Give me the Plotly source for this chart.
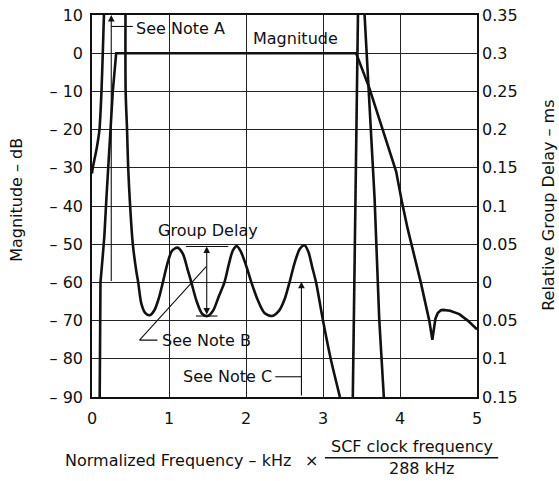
import plotly.graph_objects as go

# axis ticks
FREQ_TICKS = [0, 1, 2, 3, 4, 5]
MAG_TICKS = [10, 0, -10, -20, -30, -40, -50, -60, -70, -80, -90]
MAG_TICK_TEXT = ["10", "0", "– 10", "– 20", "– 30", "– 40", "– 50", "– 60", "– 70", "– 80", "– 90"]
DELAY_TICK_TEXT = ["0.35", "0.3", "0.25", "0.2", "0.15", "0.1", "0.05", "0", "0.05", "0.1", "0.15"]

# magnitude response (dB)
mag_freq = [0.10, 0.11, 0.14, 0.16, 0.19, 0.227, 0.27, 0.314, 3.43, 3.60, 3.84, 3.95,
            4.02, 4.10, 4.27, 4.38, 4.42, 4.435, 4.46, 4.49, 4.53, 4.56, 4.65, 4.77, 4.88, 5.0]
mag_db = [-90, -60, -53, -48, -37, -23, -10, 0, 0, -9, -24.4, -31,
          -38.4, -46, -60, -70, -75, -72.5, -69.5, -68, -67.3, -67.2, -67.4, -68.3, -70, -72.3]

# group delay, plotted on the dB grid (segments that leave the chart)
gd_low_freq = [0.0, 0.01, 0.03, 0.06, 0.097, 0.123, 0.14, 0.155]
gd_low_db = [-31.5, -30, -28, -25, -20, -10, 0, 10]

gd_band_freq = [0.435, 0.437, 0.455, 0.47, 0.495, 0.53, 0.575, 0.60, 0.64, 0.69, 0.75, 0.81, 0.87,
                0.92, 0.98, 1.04, 1.11, 1.18, 1.24, 1.29, 1.36, 1.43, 1.50, 1.57, 1.65, 1.72,
                1.78, 1.83, 1.88, 1.93, 2.0, 2.07, 2.15, 2.24, 2.34, 2.43, 2.50, 2.565, 2.63,
                2.70, 2.76, 2.81, 2.86, 2.91, 3.0, 3.1, 3.22]
gd_band_db = [10, -10, -20, -30, -40, -50, -57, -60, -65.5, -68, -68.6, -67.3, -64,
              -60, -55, -51.7, -50.9, -52.5, -56.5, -60, -65, -68.2, -68.8, -67.5, -63.5, -60,
              -55, -51.6, -50.5, -51.8, -55.5, -60, -64.5, -68, -68.8, -67.4, -64.5, -60, -55,
              -51.2, -50.3, -52, -56, -60, -70, -80, -90]

gd_rise_freq = [3.387, 3.42, 3.43, 3.454]
gd_rise_db = [-90, -38.4, -24, 10]

gd_fall_freq = [3.54, 3.63, 3.67, 3.73, 3.79]
gd_fall_db = [10, -24, -38, -69.5, -90]

# note markers (frequency, dB)
NOTE_A = dict(x=0.25, y_tip=10, y_tail=-60, leader=[0.25, 0.53], leader_db=7.0, text_x=0.55, text_db=6.5)
NOTE_B = dict(x=1.49, y_top=-50.6, y_bot=-68.8, top_tick=[1.22, 1.77], bot_tick=[1.35, 1.63],
              leader_x=[0.85, 0.617, 1.483], leader_db=[-75.1, -75.1, -55.9], text_x=0.88, text_db=-75.1)
NOTE_C = dict(x=2.72, y_tip=-59.8, y_tail=-90, leader=[2.38, 2.72], leader_db=-84.7, text_x=1.757, text_db=-84.7)

FONT = "DejaVu Sans, Liberation Sans, Arial"
INK = "#111111"
FS = 16

fig = go.Figure()

curve = dict(color=INK, width=2.6)
fig.add_trace(go.Scatter(x=mag_freq, y=mag_db, mode="lines", line=curve))
fig.add_trace(go.Scatter(x=gd_low_freq, y=gd_low_db, mode="lines", line=dict(curve, shape="spline", smoothing=0.6)))
fig.add_trace(go.Scatter(x=gd_band_freq, y=gd_band_db, mode="lines", line=dict(curve, shape="spline", smoothing=0.8)))
fig.add_trace(go.Scatter(x=gd_rise_freq, y=gd_rise_db, mode="lines", line=curve))
fig.add_trace(go.Scatter(x=gd_fall_freq, y=gd_fall_db, mode="lines", line=curve))
# empty trace so the right-hand delay axis is drawn
fig.add_trace(go.Scatter(x=[None], y=[None], yaxis="y2", mode="lines"))

thin = dict(color=INK, width=1.1)


def note_text(x, y, text, anchor="center"):
    fig.add_annotation(x=x, y=y, text=text, showarrow=False, xanchor=anchor, yanchor="middle",
                       font=dict(size=FS))


def paper_text(x, y, text, anchor="center", angle=0):
    fig.add_annotation(x=x, y=y, xref="paper", yref="paper", text=text, showarrow=False,
                       xanchor=anchor, yanchor="middle", textangle=angle, font=dict(size=FS))


# Note A: arrow to the top and leader
fig.add_annotation(x=NOTE_A["x"], y=NOTE_A["y_tip"], ax=NOTE_A["x"], ay=NOTE_A["y_tail"],
                   xref="x", yref="y", axref="x", ayref="y", text="", showarrow=True,
                   arrowhead=2, arrowsize=1.2, arrowwidth=1.1, arrowcolor=INK)
fig.add_trace(go.Scatter(x=NOTE_A["leader"], y=[NOTE_A["leader_db"]] * 2, mode="lines", line=thin))
note_text(NOTE_A["text_x"], NOTE_A["text_db"], "See Note A", "left")

# Note B: ripple dimension arrow
fig.add_annotation(x=NOTE_B["x"], y=NOTE_B["y_top"], ax=NOTE_B["x"], ay=NOTE_B["y_bot"],
                   xref="x", yref="y", axref="x", ayref="y", text="", showarrow=True,
                   arrowhead=2, startarrowhead=2, arrowside="end+start", arrowsize=1.2,
                   arrowwidth=1.1, arrowcolor=INK)
fig.add_trace(go.Scatter(x=NOTE_B["top_tick"], y=[NOTE_B["y_top"]] * 2, mode="lines", line=thin))
fig.add_trace(go.Scatter(x=NOTE_B["bot_tick"], y=[NOTE_B["y_bot"]] * 2, mode="lines", line=thin))
fig.add_trace(go.Scatter(x=NOTE_B["leader_x"], y=NOTE_B["leader_db"], mode="lines", line=thin))
note_text(NOTE_B["text_x"], NOTE_B["text_db"], "See Note B", "left")

# Note C
fig.add_annotation(x=NOTE_C["x"], y=NOTE_C["y_tip"], ax=NOTE_C["x"], ay=NOTE_C["y_tail"],
                   xref="x", yref="y", axref="x", ayref="y", text="", showarrow=True,
                   arrowhead=2, arrowsize=1.2, arrowwidth=1.1, arrowcolor=INK)
fig.add_trace(go.Scatter(x=NOTE_C["leader"], y=[NOTE_C["leader_db"]] * 2, mode="lines", line=thin))
note_text(NOTE_C["text_x"], NOTE_C["text_db"], "See Note C")

# curve labels
note_text(2.64, 3.9, "Magnitude")
note_text(1.51, -46.3, "Group Delay")

# axis titles (paper coords, plot area is 385 x 382 px)
paper_text(-0.195, 0.516, "Magnitude – dB", angle=-90)
paper_text(1.185, 0.501, "Relative Group Delay – ms", angle=-90)
paper_text(0.522, -0.165, "Normalized Frequency – kHz", "right")
paper_text(0.569, -0.165, "×")
paper_text(0.83, -0.130, "SCF clock frequency")
paper_text(0.856, -0.186, "288 kHz")
fig.add_shape(type="line", xref="paper", yref="paper", x0=0.605, x1=1.055, y0=-0.159, y1=-0.159,
              line=dict(color=INK, width=1.5))

grid = dict(showgrid=True, gridcolor="#222222", gridwidth=1, zeroline=False,
            showline=True, linecolor=INK, linewidth=1.5, mirror=True, ticks="",
            automargin=False, ticklabeloverflow="allow")

fig.update_layout(
    width=559, height=481,
    margin=dict(l=92, r=82, t=15, b=84, autoexpand=False),
    paper_bgcolor="white", plot_bgcolor="white",
    showlegend=False,
    font=dict(family=FONT, size=FS, color=INK),
    xaxis=dict(grid, range=[0, 5], tickvals=FREQ_TICKS, ticklabelstandoff=6),
    yaxis=dict(grid, range=[-90, 10], tickvals=MAG_TICKS, ticktext=MAG_TICK_TEXT, ticklabelstandoff=4),
    yaxis2=dict(overlaying="y", side="right", range=[-90, 10], tickvals=MAG_TICKS,
                ticktext=DELAY_TICK_TEXT, showgrid=False, zeroline=False, showline=False,
                ticks="", ticklabelstandoff=4, automargin=False, ticklabeloverflow="allow"),
)

# drop the default 8px body margin so the figure sits at the page corner
fig.write_html("out.html", config={"displayModeBar": False},
               post_script="document.body.style.margin = '0';")
